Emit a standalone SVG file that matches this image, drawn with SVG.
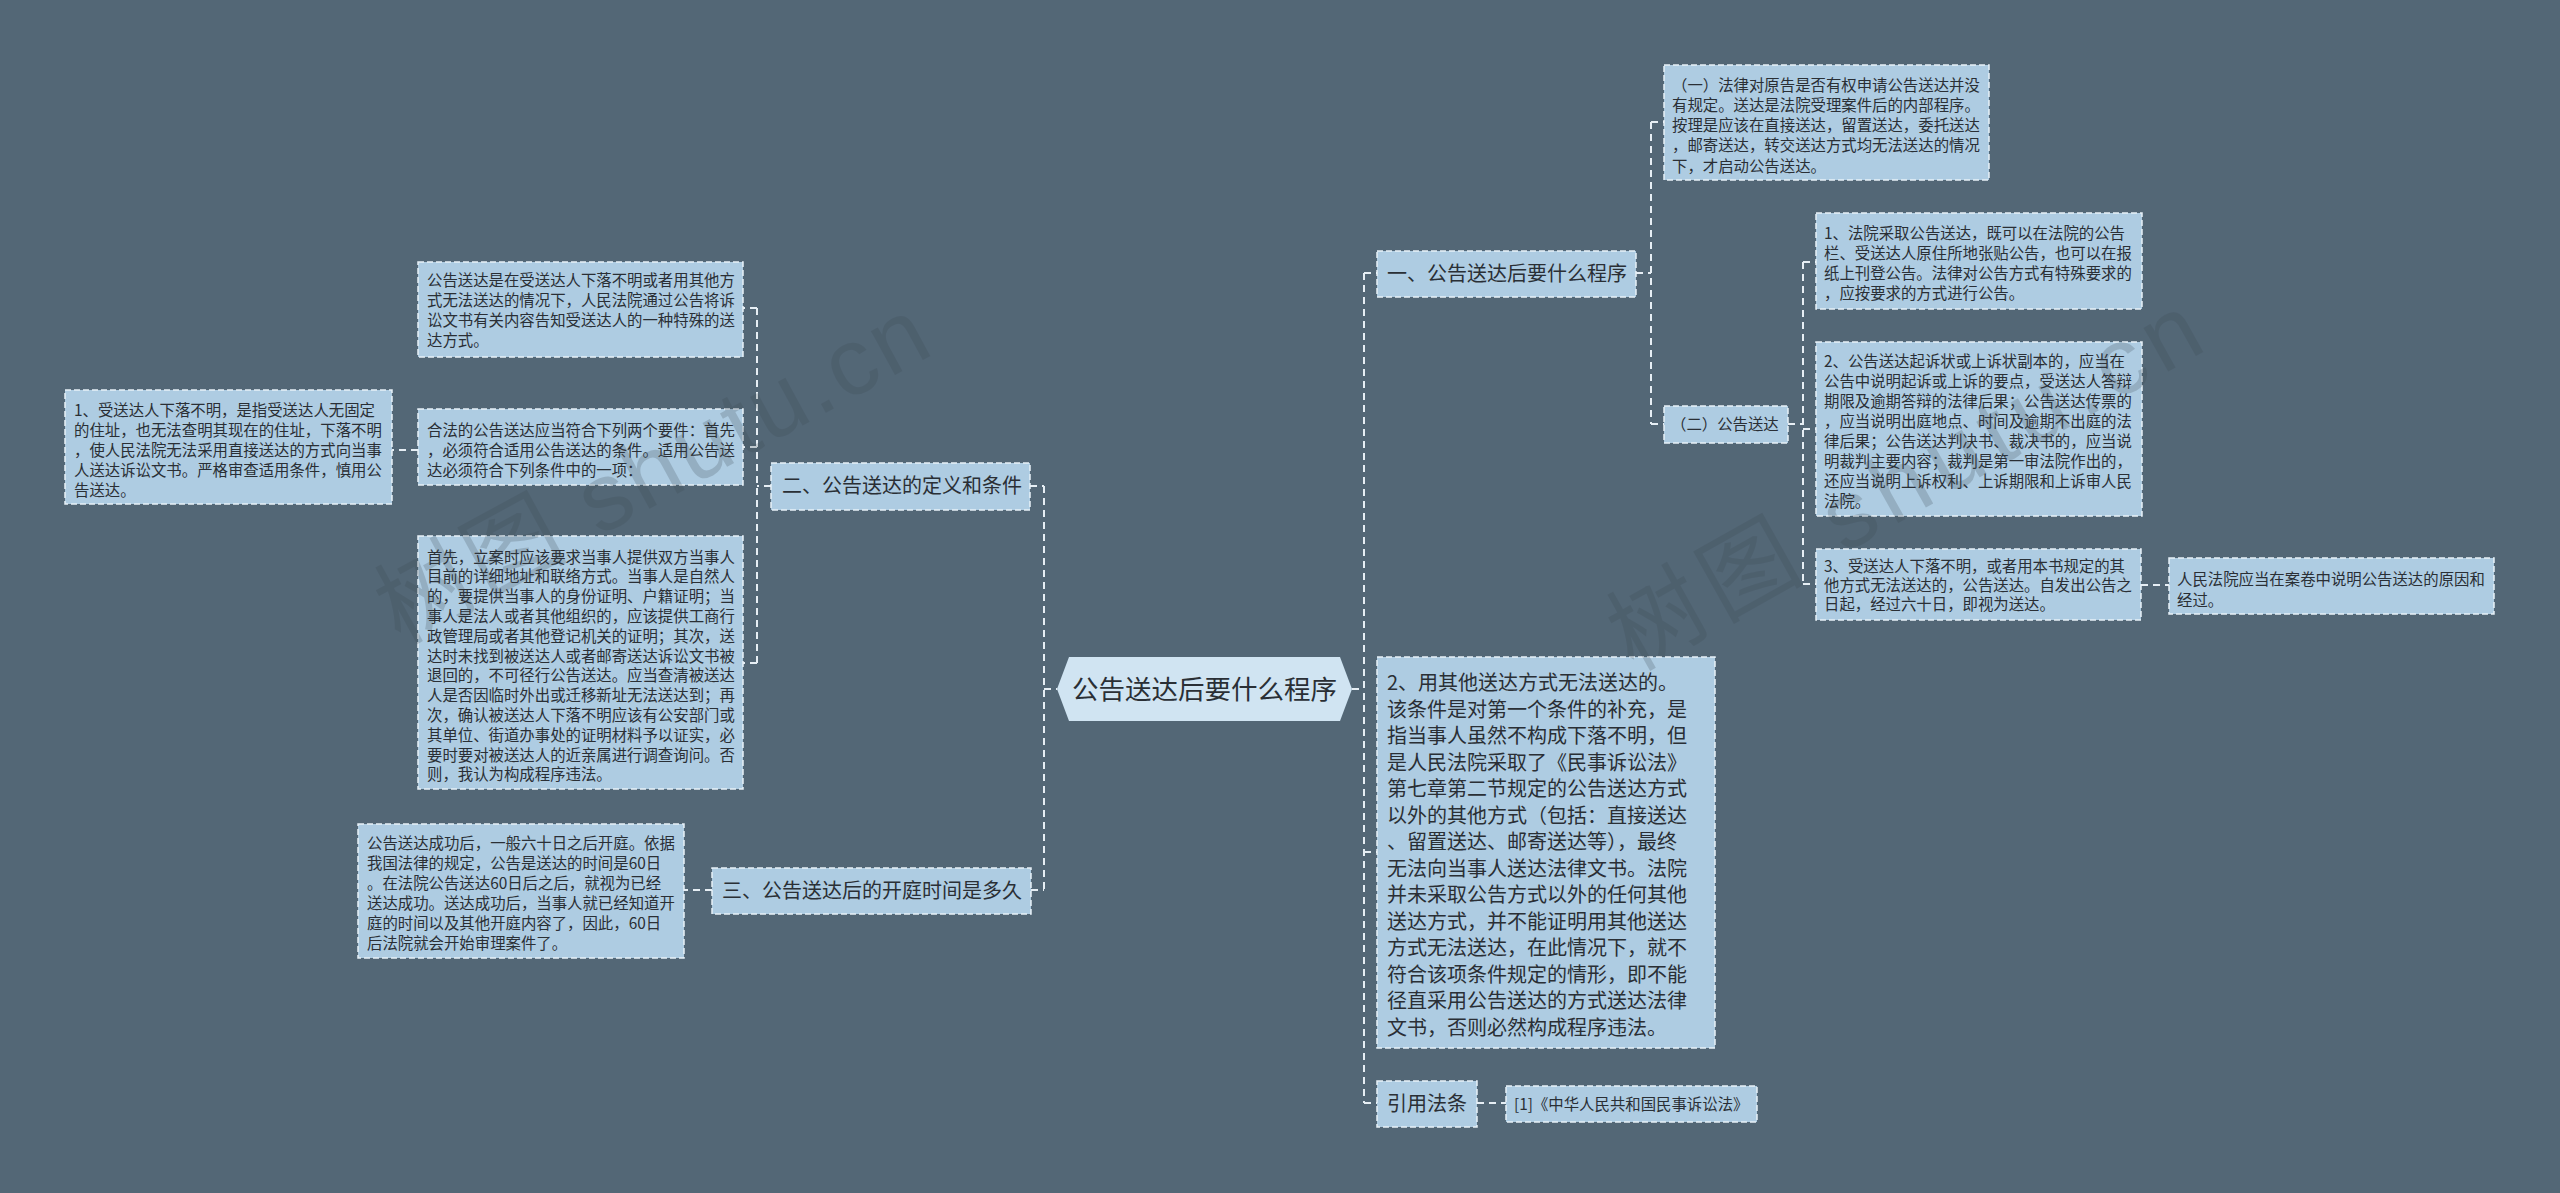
<svg xmlns="http://www.w3.org/2000/svg" width="2560" height="1193" viewBox="0 0 2560 1193">
<style>
.bg{fill:#536776}
.box{fill:#aecce2;stroke:#e8f1f8;stroke-width:1.5;stroke-dasharray:6 3}
.ctr{fill:#d0e4f2}
.t{font-family:"Noto Sans CJK SC","Liberation Sans",sans-serif;fill:#2a2f35}
.s{font-size:15.4px}
.m{font-size:20px}
.c{font-size:26.5px}
.wm{font-family:"Liberation Sans","Noto Sans CJK SC",sans-serif;font-size:95px;fill:#3c4852;opacity:0.22}
.ln{fill:none;stroke:#e6eef4;stroke-width:2;stroke-dasharray:7 5}
</style>
<rect class="bg" x="0" y="0" width="2560" height="1193"/>

<g id="connectors">
<path class="ln" d="M1044 486 V890 M1030 486 H1044 M1031 890 H1044 M1044 689 H1057"/>
<path class="ln" d="M771 486 H757 M757 308 V663 M757 308 H743 M757 447 H743 M757 663 H743"/>
<path class="ln" d="M418 450 H392"/>
<path class="ln" d="M712 890 H684"/>
<path class="ln" d="M1364 273 V1103 M1352 689 H1364 M1364 273 H1377 M1364 852 H1377 M1364 1103 H1377"/>
<path class="ln" d="M1636 273 H1651 M1651 122 V424 M1651 122 H1664 M1651 424 H1664"/>
<path class="ln" d="M1788 424 H1803 M1803 262 V584 M1803 262 H1816 M1803 429 H1816 M1803 584 H1816"/>
<path class="ln" d="M2141 585 H2169"/>
<path class="ln" d="M1477 1103 H1506"/>
</g>

<g id="center">
<polygon class="ctr" points="1057,689 1069,657 1340,657 1352,689 1340,721 1069,721"/>
<text class="t c" x="1204.5" y="698.5" text-anchor="middle">公告送达后要什么程序</text>
</g>

<g id="n2">
<rect class="box" x="771" y="463" width="259" height="47"/>
<text class="t m" x="782" y="493">二、公告送达的定义和条件</text>
</g>

<g id="n3">
<rect class="box" x="712" y="868" width="319" height="46"/>
<text class="t m" x="722" y="898">三、公告送达后的开庭时间是多久</text>
</g>

<g id="boxA">
<rect class="box" x="418" y="262" width="325" height="95"/>
<text class="t s" x="427" y="285.5"><tspan x="427">公告送达是在受送达人下落不明或者用其他方</tspan><tspan x="427" dy="20">式无法送达的情况下，人民法院通过公告将诉</tspan><tspan x="427" dy="20">讼文书有关内容告知受送达人的一种特殊的送</tspan><tspan x="427" dy="20">达方式。</tspan></text>
</g>

<g id="boxB">
<rect class="box" x="418" y="409" width="325" height="76"/>
<text class="t s" x="427" y="435.5"><tspan x="427">合法的公告送达应当符合下列两个要件：首先</tspan><tspan x="427" dy="20">，必须符合适用公告送达的条件。适用公告送</tspan><tspan x="427" dy="20">达必须符合下列条件中的一项：</tspan></text>
</g>

<g id="boxC">
<rect class="box" x="65" y="390" width="327" height="114"/>
<text class="t s" x="74" y="415.5"><tspan x="74">1、受送达人下落不明，是指受送达人无固定</tspan><tspan x="74" dy="20">的住址，也无法查明其现在的住址，下落不明</tspan><tspan x="74" dy="20">，使人民法院无法采用直接送达的方式向当事</tspan><tspan x="74" dy="20">人送达诉讼文书。严格审查适用条件，慎用公</tspan><tspan x="74" dy="20">告送达。</tspan></text>
</g>

<g id="boxD">
<rect class="box" x="418" y="536" width="325" height="253"/>
<text class="t s" x="427" y="562.5"><tspan x="427">首先，立案时应该要求当事人提供双方当事人</tspan><tspan x="427" dy="19.8">目前的详细地址和联络方式。当事人是自然人</tspan><tspan x="427" dy="19.8">的，要提供当事人的身份证明、户籍证明；当</tspan><tspan x="427" dy="19.8">事人是法人或者其他组织的，应该提供工商行</tspan><tspan x="427" dy="19.8">政管理局或者其他登记机关的证明；其次，送</tspan><tspan x="427" dy="19.8">达时未找到被送达人或者邮寄送达诉讼文书被</tspan><tspan x="427" dy="19.8">退回的，不可径行公告送达。应当查清被送达</tspan><tspan x="427" dy="19.8">人是否因临时外出或迁移新址无法送达到；再</tspan><tspan x="427" dy="19.8">次，确认被送达人下落不明应该有公安部门或</tspan><tspan x="427" dy="19.8">其单位、街道办事处的证明材料予以证实，必</tspan><tspan x="427" dy="19.8">要时要对被送达人的近亲属进行调查询问。否</tspan><tspan x="427" dy="19.8">则，我认为构成程序违法。</tspan></text>
</g>

<g id="boxE">
<rect class="box" x="358" y="824" width="326" height="134"/>
<text class="t s" x="367" y="848.5"><tspan x="367">公告送达成功后，一般六十日之后开庭。依据</tspan><tspan x="367" dy="20">我国法律的规定，公告是送达的时间是60日</tspan><tspan x="367" dy="20">。在法院公告送达60日后之后，就视为已经</tspan><tspan x="367" dy="20">送达成功。送达成功后，当事人就已经知道开</tspan><tspan x="367" dy="20">庭的时间以及其他开庭内容了，因此，60日</tspan><tspan x="367" dy="20">后法院就会开始审理案件了。</tspan></text>
</g>

<g id="n1">
<rect class="box" x="1377" y="251" width="259" height="46"/>
<text class="t m" x="1387" y="281">一、公告送达后要什么程序</text>
</g>

<g id="boxYi">
<rect class="box" x="1664" y="65" width="325" height="115"/>
<text class="t s" x="1672" y="90.5"><tspan x="1672">（一）法律对原告是否有权申请公告送达并没</tspan><tspan x="1672" dy="20.3">有规定。送达是法院受理案件后的内部程序。</tspan><tspan x="1672" dy="20.3">按理是应该在直接送达，留置送达，委托送达</tspan><tspan x="1672" dy="20.3">，邮寄送达，转交送达方式均无法送达的情况</tspan><tspan x="1672" dy="20.3">下，才启动公告送达。</tspan></text>
</g>

<g id="nEr">
<rect class="box" x="1664" y="406" width="124" height="37"/>
<text class="t s" x="1671" y="429.5">（二）公告送达</text>
</g>

<g id="box1">
<rect class="box" x="1816" y="213" width="326" height="96"/>
<text class="t s" x="1824" y="238.5"><tspan x="1824">1、法院采取公告送达，既可以在法院的公告</tspan><tspan x="1824" dy="20.3">栏、受送达人原住所地张贴公告，也可以在报</tspan><tspan x="1824" dy="20.3">纸上刊登公告。法律对公告方式有特殊要求的</tspan><tspan x="1824" dy="20.3">，应按要求的方式进行公告。</tspan></text>
</g>

<g id="box2">
<rect class="box" x="1816" y="342" width="326" height="174"/>
<text class="t s" x="1824" y="366.5"><tspan x="1824">2、公告送达起诉状或上诉状副本的，应当在</tspan><tspan x="1824" dy="20">公告中说明起诉或上诉的要点，受送达人答辩</tspan><tspan x="1824" dy="20">期限及逾期答辩的法律后果；公告送达传票的</tspan><tspan x="1824" dy="20">，应当说明出庭地点、时间及逾期不出庭的法</tspan><tspan x="1824" dy="20">律后果；公告送达判决书、裁决书的，应当说</tspan><tspan x="1824" dy="20">明裁判主要内容；裁判是第一审法院作出的，</tspan><tspan x="1824" dy="20">还应当说明上诉权利、上诉期限和上诉审人民</tspan><tspan x="1824" dy="20">法院。</tspan></text>
</g>

<g id="box3">
<rect class="box" x="1816" y="549" width="325" height="71"/>
<text class="t s" x="1824" y="571.5"><tspan x="1824">3、受送达人下落不明，或者用本书规定的其</tspan><tspan x="1824" dy="19">他方式无法送达的，公告送达。自发出公告之</tspan><tspan x="1824" dy="19">日起，经过六十日，即视为送达。</tspan></text>
</g>

<g id="box4">
<rect class="box" x="2169" y="558" width="325" height="56"/>
<text class="t s" x="2177" y="584.5"><tspan x="2177">人民法院应当在案卷中说明公告送达的原因和</tspan><tspan x="2177" dy="21">经过。</tspan></text>
</g>

<g id="boxBig">
<rect class="box" x="1377" y="657" width="338" height="391"/>
<text class="t m" x="1387" y="690"><tspan x="1387">2、用其他送达方式无法送达的。</tspan><tspan x="1387" dy="26.5">该条件是对第一个条件的补充，是</tspan><tspan x="1387" dy="26.5">指当事人虽然不构成下落不明，但</tspan><tspan x="1387" dy="26.5">是人民法院采取了《民事诉讼法》</tspan><tspan x="1387" dy="26.5">第七章第二节规定的公告送达方式</tspan><tspan x="1387" dy="26.5">以外的其他方式（包括：直接送达</tspan><tspan x="1387" dy="26.5">、留置送达、邮寄送达等），最终</tspan><tspan x="1387" dy="26.5">无法向当事人送达法律文书。法院</tspan><tspan x="1387" dy="26.5">并未采取公告方式以外的任何其他</tspan><tspan x="1387" dy="26.5">送达方式，并不能证明用其他送达</tspan><tspan x="1387" dy="26.5">方式无法送达，在此情况下，就不</tspan><tspan x="1387" dy="26.5">符合该项条件规定的情形，即不能</tspan><tspan x="1387" dy="26.5">径直采用公告送达的方式送达法律</tspan><tspan x="1387" dy="26.5">文书，否则必然构成程序违法。</tspan></text>
</g>

<g id="nRef">
<rect class="box" x="1377" y="1081" width="100" height="46"/>
<text class="t m" x="1387" y="1111">引用法条</text>
</g>

<g id="ref1">
<rect class="box" x="1506" y="1086" width="251" height="36"/>
<text class="t s" x="1514" y="1109.5">[1]《中华人民共和国民事诉讼法》</text>
</g>

<g id="watermarks">
<text class="wm" x="400" y="645" transform="rotate(-28.6 400 645)" textLength="610" lengthAdjust="spacing">树图 shutu.cn</text>
<text class="wm" x="1633" y="672" transform="rotate(-29.3 1633 672)" textLength="660" lengthAdjust="spacing">树图 shutu.cn</text>
</g>
</svg>
